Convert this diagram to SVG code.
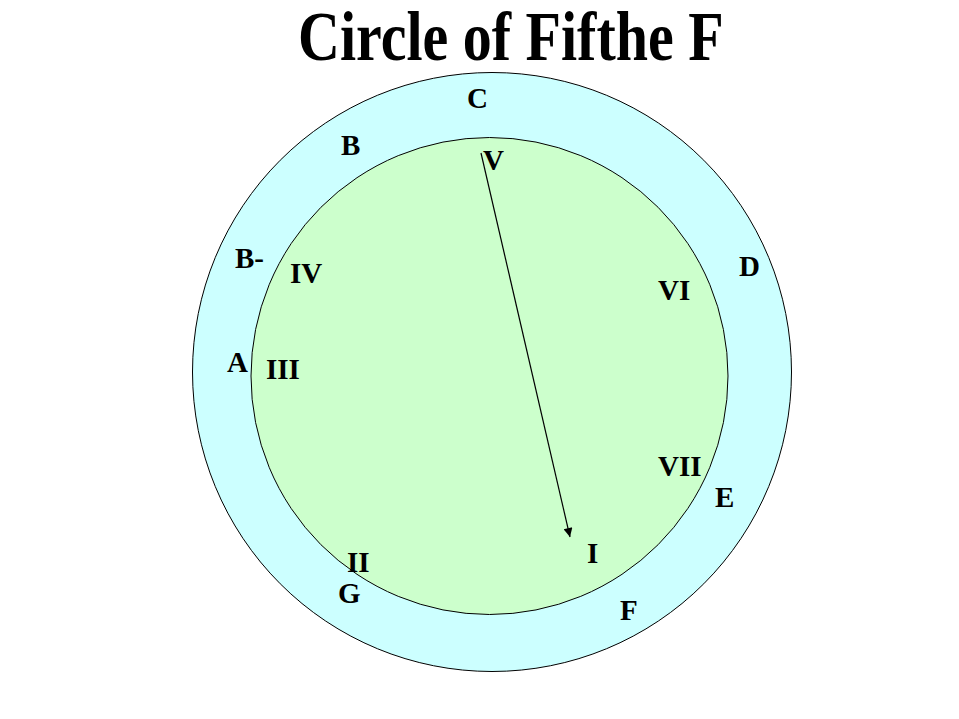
<svg xmlns="http://www.w3.org/2000/svg" width="959" height="719" viewBox="0 0 959 719">
<style>
.t{font-family:"Liberation Serif","Times New Roman",serif;font-weight:bold;fill:#000}
.lbl{font-size:29px}
</style>
<defs>
<marker id="ah" viewBox="0 0 10 10" refX="10" refY="5" markerWidth="11" markerHeight="9" markerUnits="userSpaceOnUse" orient="auto">
<path d="M0,0 L10,5 L0,10 z" fill="#000"/>
</marker>
</defs>
<rect width="959" height="719" fill="#fff"/>
<text class="t" font-size="58" transform="translate(298,60) scale(1,1.2)" x="0" y="0">Circle of Fifthe F</text>
<g id="outer">
<circle cx="492" cy="372" r="299.5" fill="#ccffff" stroke="#000" stroke-width="1"/>
</g>
<g id="inner">
<circle cx="489.5" cy="376" r="238.5" fill="#ccffcc" stroke="#000" stroke-width="1"/>
</g>
<g id="connectors">
<line x1="481" y1="153" x2="570" y2="537" stroke="#000" stroke-width="1.2" marker-end="url(#ah)"/>
</g>
<g id="labels-outer" class="t lbl">
<text x="467" y="108">C</text>
<text x="341" y="155">B</text>
<text x="235" y="268">B-</text>
<text x="227" y="372">A</text>
<text x="739" y="276">D</text>
<text x="715" y="507">E</text>
<text x="620" y="620">F</text>
<text x="338" y="603">G</text>
</g>
<g id="labels-inner" class="t lbl">
<text x="483" y="170">V</text>
<text x="290" y="283">IV</text>
<text x="266" y="379">III</text>
<text x="658" y="300">VI</text>
<text x="658" y="476">VII</text>
<text x="347" y="572">II</text>
<text x="587" y="563">I</text>
</g>
</svg>
